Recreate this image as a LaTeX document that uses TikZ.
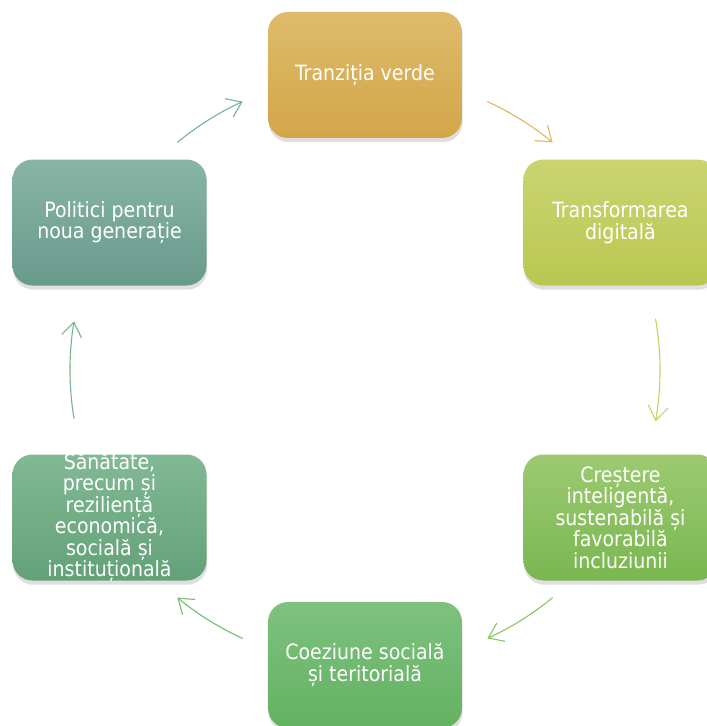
\documentclass[tikz,border=0pt]{standalone}
\usepackage{fontspec}
\setmainfont{DejaVu Sans Condensed}
\usetikzlibrary{arrows.meta}
\usetikzlibrary{shadows}
\definecolor{goldtop}{RGB}{222,187,108}
\definecolor{goldbot}{RGB}{211,166,72}
\definecolor{limetop}{RGB}{202,213,114}
\definecolor{limebot}{RGB}{185,199,80}
\definecolor{leaftop}{RGB}{157,202,113}
\definecolor{leafbot}{RGB}{121,183,80}
\definecolor{grasstop}{RGB}{126,193,126}
\definecolor{grassbot}{RGB}{99,178,97}
\definecolor{minttop}{RGB}{129,185,148}
\definecolor{mintbot}{RGB}{99,161,120}
\definecolor{tealtop}{RGB}{137,181,166}
\definecolor{tealbot}{RGB}{104,154,139}
\definecolor{goldarrow}{RGB}{222,185,100}
\definecolor{limearrow}{RGB}{196,212,100}
\definecolor{leafarrow}{RGB}{140,198,100}
\definecolor{grassarrow}{RGB}{115,190,115}
\definecolor{mintarrow}{RGB}{115,184,140}
\definecolor{tealarrow}{RGB}{120,178,158}

\begin{document}
\begin{tikzpicture}[
  box/.style 2 args={rounded corners=0.5cm,minimum width=4.85cm,minimum height=3.15cm,
    top color=#1,bottom color=#2,
    drop shadow={opacity=0.25,shadow xshift=0.5pt,shadow yshift=-3pt}},
  boxtext/.style={text=white,align=center,font=\fontsize{15}{15.3}\selectfont},
  cyc/.style={line width=0.8pt,-{Straight Barb[length=0.35cm,width=0.5cm]},#1}
]
\def\R{7.375}
\useasboundingbox (-9.125,-8.9) rectangle (8.55,9.25);

%% boxes
\node [box={goldtop}{goldbot}] (verde) at (90:\R) {};
\node [box={limetop}{limebot}] (digital) at (30:\R) {};
\node [box={leaftop}{leafbot}] (crestere) at (-30:\R) {};
\node [box={grasstop}{grassbot}] (coeziune) at (-90:\R) {};
\node [box={minttop}{mintbot}] (sanatate) at (210:\R) {};
\node [box={tealtop}{tealbot}] (politici) at (150:\R) {};

%% labels
\node [boxtext] (verdet) at (verde) {Tranziția verde};
\node [boxtext] (digitalt) at (digital) {Transformarea\\ digitală};
\node [boxtext] (crestert) at (crestere) {Creștere\\ inteligentă,\\ sustenabilă și\\ favorabilă\\ incluziunii};
\node [boxtext] (coeziunet) at (coeziune) {Coeziune socială\\ și teritorială};
\node [boxtext] (sanatatet) at (sanatate) {Sănătate,\\ precum și\\ reziliență\\ economică,\\ socială și\\ instituțională};
\node [boxtext] (politicit) at (politici) {Politici pentru\\ noua generație};

%% arrows on the circle
\coordinate (a1) at (129.5:\R);
\coordinate (a2) at (65.5:\R);
\coordinate (a3) at (10:\R);
\coordinate (a4) at (-50.5:\R);
\coordinate (a5) at (-114.5:\R);
\coordinate (a6) at (189.5:\R);
\draw [cyc=tealarrow] (a1) arc (129.5:114.5:\R);
\draw [cyc=goldarrow] (a2) arc (65.5:50.5:\R);
\draw [cyc=limearrow] (a3) arc (10:-10:\R);
\draw [cyc=leafarrow] (a4) arc (-50.5:-65.5:\R);
\draw [cyc=grassarrow] (a5) arc (-114.5:-129.5:\R);
\draw [cyc=mintarrow] (a6) arc (189.5:170.5:\R);

\end{tikzpicture}
\end{document}
